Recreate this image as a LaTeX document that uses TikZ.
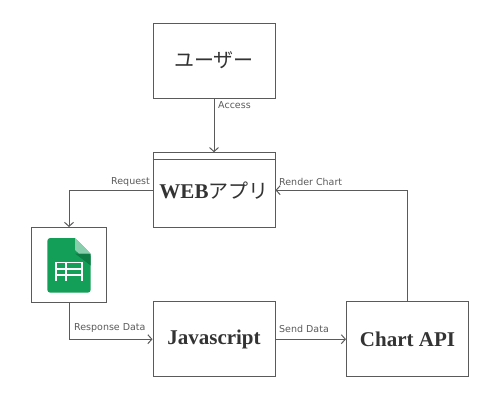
\documentclass[tikz,border=0pt]{standalone}
\usepackage{fontspec}
\setmainfont{DejaVu Sans}
\newfontfamily\jpfont{Noto Sans CJK JP}[Scale=1]
\newfontfamily\headfont{Liberation Serif}
\usetikzlibrary{arrows.meta}
\definecolor{linegray}{HTML}{5A5A5A}
\definecolor{textgray}{HTML}{333333}
\definecolor{sheetgreen}{HTML}{149F59}
\definecolor{foldlight}{HTML}{87CEAC}
\definecolor{folddark}{HTML}{0F7B45}
\begin{document}
\begin{tikzpicture}[x=1pt, y=-1pt,
  box/.style={draw=linegray, line width=1pt, fill=white, minimum width=122pt, minimum height=75pt, inner sep=0pt, text=textgray},
  iconbox/.style={box, minimum width=75pt},
  head/.style={font=\headfont\fontsize{21}{21}\selectfont\bfseries},
  jp/.style={font=\jpfont\fontsize{20}{20}\selectfont},
  conn/.style={draw=linegray, line width=1pt, -{Straight Barb[length=4pt, width=9pt]}},
  lbl/.style={font=\fontsize{9.5}{9.5}\selectfont, text=linegray, inner sep=0pt}
]
\useasboundingbox (0,0) rectangle (500,400);

%% Boxes
\node[box, jp] (user) at (214,60.5) {ユーザー};
\node[box] (web) at (214,190.2) {{\headfont\fontsize{21}{21}\selectfont\bfseries WEB}{\jpfont\fontsize{20}{20}\selectfont アプリ}};
\node[iconbox] (sheet) at (69,265) {};
\node[box, head] (js) at (214,339.2) {Javascript};
\node[box, head] (chart) at (407.5,339.2) {Chart API};
\draw[linegray, line width=1pt] ([yshift=-7pt]web.north west) -- ([yshift=-7pt]web.north east);

%% Sheet icon
\fill[sheetgreen, rounded corners=3pt] (75,238) -- (47.3,238) -- (47.3,292.7) -- (90.7,292.7) -- (90.7,254) -- cycle;
\fill[sheetgreen] (75,238) -- (60,238) -- (60,250) -- (75,254) -- cycle;
\fill[folddark] (75,253.5) -- (90.7,253.5) -- (90.7,265.5) -- cycle;
\fill[foldlight] (75,238) -- (90.7,253.5) -- (79,253.5) -- (75,250) -- cycle;
\fill[white] (55.3,261.7) rectangle (82.7,281.3);
\foreach \y in {263,269.5,276} {
  \fill[sheetgreen] (56.7,\y) rectangle (65.2,\y+4.9);
  \fill[sheetgreen] (66.9,\y) rectangle (81.3,\y+4.9);
}

%% Connectors
\draw[conn] (user) -- (web);
\draw[conn] (web.west) -| (sheet.north);
\draw[conn] (sheet.south) |- (js.west);
\draw[conn] (js) -- (chart);
\draw[conn] (chart.north) |- (web.east);

%% Connector labels
\node[lbl, anchor=west] (access) at (218,105.5) {Access};
\node[lbl, anchor=east] (request) at (150,182) {Request};
\node[lbl, anchor=west] (render) at (279,182) {Render Chart};
\node[lbl, anchor=west] (response) at (74,328.5) {Response Data};
\node[lbl, anchor=west] (send) at (279,328.5) {Send Data};
\end{tikzpicture}
\end{document}
